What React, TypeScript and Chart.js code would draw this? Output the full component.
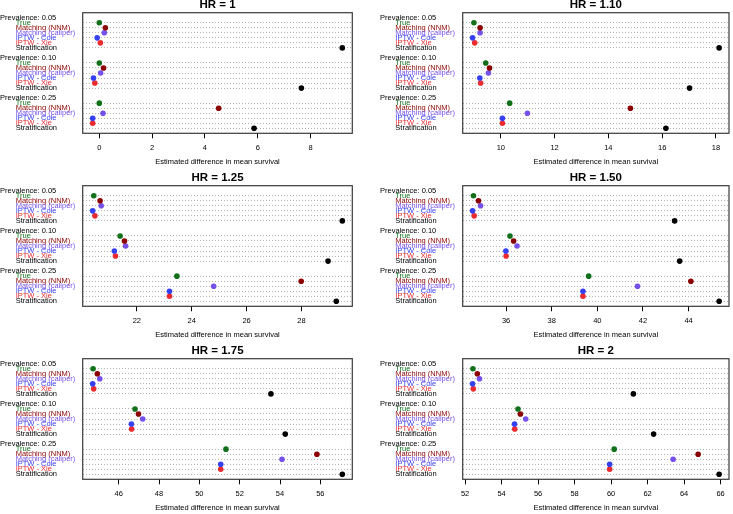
import React, { useEffect, useRef } from "react";
import { Chart, registerables } from "chart.js";

Chart.register(...registerables);

// ---------- data ----------
const methods = [
  "True",
  "Matching (NNM)",
  "Matching (caliper)",
  "IPTW - Cole",
  "IPTW - Xie",
  "Stratification",
];
const methodColors = ["#12701a", "#8b0000", "#7550ea", "#3540f2", "#ea2a2e", "#000000"];
const prevalenceLabels = ["Prevalence: 0.05", "Prevalence: 0.10", "Prevalence: 0.25"];
const panelTitles = ["HR = 1", "HR = 1.10", "HR = 1.25", "HR = 1.50", "HR = 1.75", "HR = 2"];
const axisTitle = "Estimated difference in mean survival";

// values per panel: [prevalence 0.05, 0.10, 0.25] x [True, NNM, caliper, Cole, Xie, Stratification]
const hr100 = [
  [0.0, 0.23, 0.19, -0.08, 0.04, 9.2],
  [0.0, 0.16, 0.05, -0.22, -0.17, 7.65],
  [0.0, 4.52, 0.14, -0.25, -0.25, 5.86],
];
const hr110 = [
  [9.0, 9.23, 9.23, 8.95, 9.03, 18.12],
  [9.44, 9.58, 9.54, 9.22, 9.25, 17.02],
  [10.33, 14.82, 10.99, 10.06, 10.06, 16.14],
];
const hr125 = [
  [20.43, 20.66, 20.7, 20.39, 20.47, 29.49],
  [21.39, 21.55, 21.59, 21.18, 21.22, 28.97],
  [23.46, 27.99, 24.8, 23.19, 23.19, 29.27],
];
const hr150 = [
  [34.57, 34.79, 34.88, 34.53, 34.6, 43.39],
  [36.17, 36.33, 36.48, 35.99, 36.0, 43.61],
  [39.62, 44.1, 41.76, 39.37, 39.37, 45.34],
];
const hr175 = [
  [44.73, 44.94, 45.06, 44.71, 44.76, 53.55],
  [46.81, 46.98, 47.19, 46.63, 46.64, 54.26],
  [51.32, 55.83, 54.1, 51.06, 51.06, 57.09],
];
const hr200 = [
  [52.43, 52.67, 52.79, 52.41, 52.45, 61.22],
  [54.9, 55.03, 55.32, 54.71, 54.72, 62.33],
  [60.17, 64.77, 63.4, 59.92, 59.92, 65.92],
];
const panelValues = [hr100, hr110, hr125, hr150, hr175, hr200];

// ---------- layout helpers (dotchart row positions) ----------
const groupTopRow = [22, 14, 6]; // row of first item of each group
const headerRows = [23, 15, 7];
const itemRow = (g: number, m: number) => groupTopRow[g] - m;

const FONT = "'Liberation Sans', Arial, Helvetica, sans-serif";

const boxPlugin = {
  id: "rbox",
  afterDraw(chart: any) {
    const { ctx, chartArea } = chart;
    const { left, top, right, bottom } = chartArea;
    ctx.save();
    ctx.strokeStyle = "#3a3a3a";
    ctx.lineWidth = 1.2;
    ctx.strokeRect(left, top, right - left, bottom - top);
    ctx.restore();
  },
};

type PanelProps = {
  title: string;
  values: number[][];
  col: number;
  row: number;
};

function Panel({ title, values, col, row }: PanelProps) {
  const ref = useRef<HTMLCanvasElement | null>(null);
  const W = col === 0 ? 366 : 367;
  const H = 171;
  const left = col === 0 ? 0 : 366;
  const top = row * 173;

  useEffect(() => {
    if (!ref.current) return;
    const padLeft = col === 0 ? 0 : 14;
    const padRight = col === 0 ? 13.7 : 0.5;
    const headW = col === 0 ? 15.7 : 15.3;
    const itemW = col === 0 ? 67 : 67.4;
    const boxTop = 12.7;
    const boxBottom = 133.3;

    const all = values.flat();
    const lo = Math.min(...all);
    const hi = Math.max(...all);
    const span = hi - lo;
    const xmin = lo - 0.04 * span;
    const xmax = hi + 0.04 * span;

    const itemTicks: number[] = [];
    const itemLabel: Record<number, string> = {};
    const itemColor: Record<number, string> = {};
    for (let g = 0; g < 3; g++) {
      for (let m = 0; m < methods.length; m++) {
        const r = itemRow(g, m);
        itemTicks.push(r);
        itemLabel[r] = methods[m];
        itemColor[r] = methodColors[m];
      }
    }
    const headLabel: Record<number, string> = {};
    headerRows.forEach((r, g) => (headLabel[r] = prevalenceLabels[g]));

    const datasets = methods.map((name, m) => ({
      label: name,
      data: values.map((grp, g) => ({ x: grp[m], y: itemRow(g, m) })),
      backgroundColor: methodColors[m],
      borderColor: methodColors[m],
      pointRadius: 2.8,
      pointBorderWidth: 0,
      showLine: false,
      xAxisID: "x",
      yAxisID: "y",
      clip: false as any,
    }));

    const chart = new Chart(ref.current, {
      type: "scatter",
      data: { datasets },
      plugins: [boxPlugin],
      options: {
        responsive: false,
        maintainAspectRatio: false,
        devicePixelRatio: 1,
        animation: false,
        layout: { padding: { left: padLeft, right: padRight, top: 0, bottom: 0 } },
        plugins: {
          legend: { display: false },
          tooltip: { enabled: false },
          title: { display: false },
        },
        scales: {
          xt: {
            type: "linear",
            position: "top",
            display: true,
            ticks: { display: false },
            grid: { display: false },
            border: { display: false },
            title: {
              display: true,
              text: title,
              color: "#000",
              font: { family: FONT, size: 11.5, weight: "bold", lineHeight: 0.82 },
              padding: { top: 0, bottom: 0 },
            },
            afterFit: (s: any) => {
              s.height = boxTop;
              s.paddingLeft = 0;
              s.paddingRight = 0;
            },
          },
          x: {
            type: "linear",
            position: "bottom",
            min: xmin,
            max: xmax,
            afterBuildTicks: (s: any) => {
              const t: any[] = [];
              for (let v = Math.ceil(s.min / 2) * 2; v <= s.max; v += 2) t.push({ value: v });
              s.ticks = t;
            },
            ticks: {
              font: { family: FONT, size: 7.5 },
              color: "#000",
              padding: 5.5,
              maxRotation: 0,
              autoSkip: false,
              callback: (v: any) => String(v),
            },
            grid: {
              drawOnChartArea: false,
              drawTicks: true,
              tickLength: 5,
              tickColor: "#000",
              color: "#000",
              lineWidth: 1,
            },
            border: { display: false },
            title: {
              display: true,
              text: axisTitle,
              color: "#000",
              font: { family: FONT, size: 7.5 },
              padding: { top: 0, bottom: 4.5 },
            },
            afterFit: (s: any) => {
              s.height = H - boxBottom;
              s.paddingLeft = 0;
              s.paddingRight = 0;
            },
          },
          yh: {
            type: "linear",
            position: "left",
            weight: 1,
            min: 0,
            max: 24,
            afterBuildTicks: (s: any) => {
              s.ticks = headerRows.map((v) => ({ value: v }));
            },
            ticks: {
              font: { family: FONT, size: 7.5 },
              color: "#000",
              mirror: true,
              crossAlign: "near",
              autoSkip: false,
              padding: -headW,
              callback: (v: any) => headLabel[v as number] ?? "",
            },
            grid: { display: false, drawTicks: false },
            border: { display: false },
            afterFit: (s: any) => {
              s.width = headW;
              s.paddingTop = 0;
              s.paddingBottom = 0;
            },
          },
          y: {
            type: "linear",
            position: "left",
            weight: 0,
            min: 0,
            max: 24,
            afterBuildTicks: (s: any) => {
              s.ticks = itemTicks.map((v) => ({ value: v }));
            },
            ticks: {
              font: { family: FONT, size: 7.5 },
              color: (ctx: any) => itemColor[ctx.tick?.value] ?? "#000",
              crossAlign: "far",
              autoSkip: false,
              padding: 0,
              callback: (v: any) => itemLabel[v as number] ?? "",
            },
            grid: {
              display: true,
              drawOnChartArea: true,
              drawTicks: false,
              color: "#b4b4b4",
              lineWidth: 1,
            },
            border: { display: false, dash: [1, 2] },
            afterFit: (s: any) => {
              s.width = itemW;
              s.paddingTop = 0;
              s.paddingBottom = 0;
            },
          },
        },
      } as any,
    });
    return () => chart.destroy();
  }, [title, values, col, row]);

  return (
    <canvas
      ref={ref}
      width={W}
      height={H}
      style={{ position: "absolute", left, top, width: W, height: H, display: "block" }}
    />
  );
}

export default function App() {
  useEffect(() => {
    document.body.style.margin = "0";
    document.body.style.overflow = "hidden";
  }, []);
  return (
    <div
      style={{
        position: "relative",
        width: 733,
        height: 514,
        overflow: "hidden",
        background: "#fff",
      }}
    >
      {panelTitles.map((t, i) => (
        <Panel key={t} title={t} values={panelValues[i]} col={i % 2} row={Math.floor(i / 2)} />
      ))}
    </div>
  );
}
